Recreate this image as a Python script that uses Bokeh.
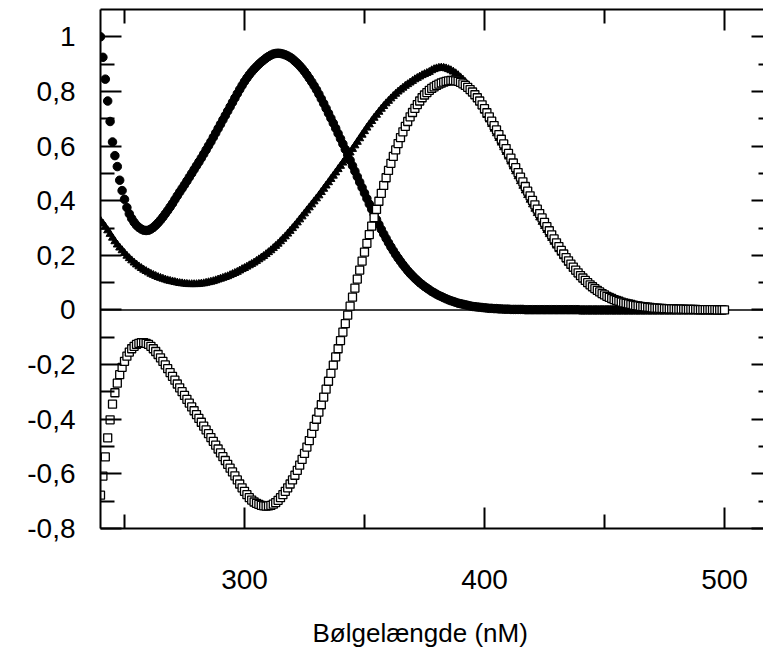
from bokeh.plotting import figure
from bokeh.models import Range1d, FixedTicker, LinearAxis, Span, Title, CustomJSTickFormatter
from bokeh.embed import file_html
from bokeh.resources import INLINE

# ---------------- data ----------------
wavelength = list(range(240, 501))  # nm, 1 nm step

series_circles = [
    1.000, 0.925, 0.845, 0.765, 0.690, 0.615, 0.565, 0.525, 0.475, 0.437,  # 240
    0.405, 0.375, 0.352, 0.335, 0.321, 0.310, 0.302, 0.296, 0.292, 0.291,  # 250
    0.292, 0.296, 0.302, 0.310, 0.319, 0.329, 0.340, 0.352, 0.364, 0.377,  # 260
    0.390, 0.404, 0.418, 0.432, 0.445, 0.458, 0.472, 0.486, 0.500, 0.514,  # 270
    0.528, 0.542, 0.556, 0.571, 0.586, 0.601, 0.616, 0.632, 0.648, 0.664,  # 280
    0.680, 0.696, 0.712, 0.728, 0.744, 0.760, 0.776, 0.792, 0.807, 0.822,  # 290
    0.836, 0.849, 0.861, 0.872, 0.882, 0.891, 0.900, 0.908, 0.915, 0.922,  # 300
    0.928, 0.933, 0.937, 0.939, 0.940, 0.939, 0.937, 0.934, 0.930, 0.925,  # 310
    0.919, 0.911, 0.903, 0.894, 0.884, 0.873, 0.861, 0.848, 0.835, 0.821,  # 320
    0.806, 0.790, 0.773, 0.756, 0.738, 0.720, 0.702, 0.684, 0.665, 0.646,  # 330
    0.627, 0.608, 0.588, 0.568, 0.548, 0.528, 0.508, 0.488, 0.468, 0.448,  # 340
    0.428, 0.408, 0.388, 0.369, 0.350, 0.331, 0.313, 0.295, 0.278, 0.262,  # 350
    0.246, 0.231, 0.217, 0.203, 0.190, 0.178, 0.166, 0.155, 0.144, 0.134,  # 360
    0.125, 0.116, 0.108, 0.100, 0.093, 0.086, 0.080, 0.074, 0.068, 0.063,  # 370
    0.058, 0.053, 0.049, 0.045, 0.041, 0.037, 0.034, 0.031, 0.028, 0.025,  # 380
    0.023, 0.021, 0.019, 0.017, 0.015, 0.013, 0.012, 0.011, 0.010, 0.009,  # 390
    0.008, 0.007, 0.006, 0.006, 0.005, 0.005, 0.004, 0.004, 0.003, 0.003,  # 400
    0.003, 0.002, 0.002, 0.002, 0.002, 0.002, 0.002, 0.001, 0.001, 0.001,  # 410
    0.001, 0.001, 0.001, 0.001, 0.001, 0.001, 0.001, 0.001, 0.001, 0.001,  # 420
    0.001, 0.001, 0.001, 0.001, 0.001, 0.001, 0.001, 0.001, 0.001, 0.001,  # 430
    0.000, 0.000, 0.000, 0.000, 0.000, 0.000, 0.000, 0.000, 0.000, 0.000,  # 440
    0.000, 0.000, 0.000, 0.000, 0.000, 0.000, 0.000, 0.000, 0.000, 0.000,  # 450
    0.000, 0.000, 0.000, 0.000, 0.000, 0.000, 0.000, 0.000, 0.000, 0.000,  # 460
    0.000, 0.000, 0.000, 0.000, 0.000, 0.000, 0.000, 0.000, 0.000, 0.000,  # 470
    0.000, 0.000, 0.000, 0.000, 0.000, 0.000, 0.000, 0.000, 0.000, 0.000,  # 480
    0.000, 0.000, 0.000, 0.000, 0.000, 0.000, 0.000, 0.000, 0.000, 0.000,  # 490
    0.000,                                                                  # 500
]

series_triangles = [
    0.327, 0.316, 0.304, 0.291, 0.278, 0.264, 0.251, 0.239, 0.228, 0.218,  # 240
    0.208, 0.198, 0.189, 0.181, 0.173, 0.166, 0.159, 0.153, 0.147, 0.142,  # 250
    0.137, 0.132, 0.128, 0.124, 0.120, 0.117, 0.114, 0.111, 0.108, 0.106,  # 260
    0.104, 0.102, 0.100, 0.098, 0.097, 0.096, 0.095, 0.094, 0.094, 0.094,  # 270
    0.094, 0.095, 0.096, 0.097, 0.099, 0.101, 0.103, 0.105, 0.108, 0.111,  # 280
    0.114, 0.117, 0.120, 0.123, 0.127, 0.131, 0.135, 0.139, 0.144, 0.149,  # 290
    0.153, 0.158, 0.163, 0.168, 0.173, 0.179, 0.185, 0.191, 0.197, 0.204,  # 300
    0.211, 0.218, 0.226, 0.234, 0.242, 0.251, 0.260, 0.269, 0.279, 0.289,  # 310
    0.299, 0.309, 0.320, 0.331, 0.342, 0.353, 0.364, 0.375, 0.386, 0.397,  # 320
    0.408, 0.419, 0.431, 0.443, 0.455, 0.467, 0.479, 0.491, 0.503, 0.515,  # 330
    0.527, 0.539, 0.551, 0.563, 0.576, 0.589, 0.602, 0.615, 0.628, 0.641,  # 340
    0.654, 0.667, 0.679, 0.691, 0.703, 0.714, 0.725, 0.736, 0.746, 0.756,  # 350
    0.765, 0.774, 0.783, 0.791, 0.799, 0.806, 0.813, 0.820, 0.826, 0.832,  # 360
    0.838, 0.844, 0.849, 0.854, 0.859, 0.863, 0.867, 0.871, 0.877, 0.881,  # 370
    0.884, 0.886, 0.887, 0.886, 0.884, 0.881, 0.877, 0.872, 0.866, 0.859,  # 380
    0.851, 0.843, 0.834, 0.824, 0.813, 0.801, 0.788, 0.774, 0.760, 0.745,  # 390
    0.729, 0.713, 0.697, 0.680, 0.663, 0.646, 0.629, 0.612, 0.595, 0.578,  # 400
    0.561, 0.543, 0.525, 0.507, 0.489, 0.471, 0.454, 0.437, 0.420, 0.403,  # 410
    0.386, 0.370, 0.354, 0.338, 0.322, 0.307, 0.292, 0.277, 0.263, 0.249,  # 420
    0.235, 0.222, 0.209, 0.196, 0.184, 0.172, 0.161, 0.150, 0.140, 0.130,  # 430
    0.121, 0.112, 0.104, 0.096, 0.089, 0.082, 0.075, 0.069, 0.063, 0.058,  # 440
    0.053, 0.048, 0.044, 0.040, 0.036, 0.033, 0.030, 0.027, 0.024, 0.022,  # 450
    0.020, 0.018, 0.016, 0.015, 0.013, 0.012, 0.011, 0.010, 0.009, 0.008,  # 460
    0.007, 0.006, 0.006, 0.005, 0.005, 0.004, 0.004, 0.004, 0.003, 0.003,  # 470
    0.003, 0.002, 0.002, 0.002, 0.002, 0.002, 0.002, 0.001, 0.001, 0.001,  # 480
    0.001, 0.001, 0.001, 0.001, 0.000, 0.000, 0.000, 0.000, 0.000, 0.000,  # 490
    0.000,                                                                  # 500
]

series_squares = [
    -0.678, -0.608, -0.538, -0.468, -0.402, -0.345, -0.303, -0.268, -0.237, -0.210,  # 240
    -0.188, -0.169, -0.154, -0.142, -0.133, -0.126, -0.122, -0.120, -0.120, -0.122,  # 250
    -0.126, -0.133, -0.142, -0.152, -0.163, -0.175, -0.188, -0.201, -0.215, -0.229,  # 260
    -0.243, -0.257, -0.271, -0.285, -0.299, -0.313, -0.327, -0.341, -0.355, -0.369,  # 270
    -0.383, -0.397, -0.411, -0.425, -0.439, -0.453, -0.467, -0.481, -0.495, -0.509,  # 280
    -0.523, -0.537, -0.551, -0.565, -0.579, -0.593, -0.607, -0.622, -0.637, -0.651,  # 290
    -0.664, -0.676, -0.687, -0.696, -0.703, -0.708, -0.712, -0.715, -0.717, -0.718,  # 300
    -0.717, -0.715, -0.711, -0.705, -0.697, -0.687, -0.676, -0.664, -0.651, -0.637,  # 310
    -0.622, -0.605, -0.587, -0.568, -0.547, -0.525, -0.502, -0.478, -0.452, -0.426,  # 320
    -0.400, -0.374, -0.347, -0.319, -0.290, -0.261, -0.232, -0.202, -0.172, -0.142,  # 330
    -0.112, -0.081, -0.050, -0.019, 0.014, 0.047, 0.080, 0.113, 0.146, 0.179,        # 340
    0.212, 0.244, 0.276, 0.307, 0.338, 0.368, 0.398, 0.427, 0.456, 0.484,            # 350
    0.511, 0.537, 0.562, 0.586, 0.609, 0.631, 0.652, 0.672, 0.690, 0.707,            # 360
    0.723, 0.738, 0.752, 0.765, 0.777, 0.787, 0.796, 0.804, 0.811, 0.817,            # 370
    0.822, 0.827, 0.831, 0.834, 0.837, 0.839, 0.840, 0.840, 0.839, 0.837,            # 380
    0.833, 0.828, 0.822, 0.815, 0.807, 0.798, 0.788, 0.777, 0.765, 0.751,            # 390
    0.737, 0.722, 0.707, 0.691, 0.675, 0.659, 0.642, 0.625, 0.608, 0.591,            # 400
    0.573, 0.556, 0.538, 0.521, 0.503, 0.486, 0.469, 0.452, 0.435, 0.418,            # 410
    0.401, 0.385, 0.369, 0.353, 0.337, 0.321, 0.305, 0.290, 0.275, 0.260,            # 420
    0.246, 0.232, 0.218, 0.205, 0.192, 0.180, 0.168, 0.157, 0.146, 0.136,            # 430
    0.126, 0.117, 0.108, 0.100, 0.092, 0.085, 0.078, 0.072, 0.066, 0.060,            # 440
    0.055, 0.050, 0.046, 0.042, 0.038, 0.035, 0.032, 0.029, 0.026, 0.024,            # 450
    0.022, 0.020, 0.018, 0.016, 0.015, 0.013, 0.012, 0.011, 0.010, 0.009,            # 460
    0.008, 0.007, 0.007, 0.006, 0.006, 0.005, 0.005, 0.004, 0.004, 0.004,            # 470
    0.003, 0.003, 0.003, 0.003, 0.002, 0.002, 0.002, 0.002, 0.002, 0.001,            # 480
    0.001, 0.001, 0.001, 0.001, 0.001, 0.001, 0.001, 0.000, 0.000, 0.000,            # 490
    0.000,                                                                            # 500
]

x_ticks = [300, 400, 500]
x_minor_ticks = [250, 350, 450]
y_ticks = [-0.8, -0.6, -0.4, -0.2, 0.0, 0.2, 0.4, 0.6, 0.8, 1.0]
y_tick_labels = ["-0,8", "-0,6", "-0,4", "-0,2", "0", "0,2", "0,4", "0,6", "0,8", "1"]
y_minor_ticks = [-0.7, -0.5, -0.3, -0.1, 0.1, 0.3, 0.5, 0.7, 0.9]
x_label = "Bølgelængde (nM)"

# ---------------- figure ----------------
FONT = "Liberation Sans"

p = figure(width=772, height=690,
           x_range=Range1d(240, 520), y_range=Range1d(-0.8, 1.1),
           output_backend="svg", toolbar_location=None,
           min_border_left=100, min_border_right=0,
           min_border_top=9, min_border_bottom=162)
p.xgrid.visible = False
p.ygrid.visible = False
p.outline_line_color = None
p.background_fill_color = "white"
p.border_fill_color = "white"


def style_axis(ax):
    ax.axis_line_color = "black"
    ax.axis_line_width = 2
    ax.major_tick_in = 21
    ax.major_tick_out = 0
    ax.minor_tick_in = 14
    ax.minor_tick_out = 0
    ax.major_tick_line_color = "black"
    ax.minor_tick_line_color = "black"
    ax.major_tick_line_width = 2
    ax.minor_tick_line_width = 2
    ax.major_label_text_font = FONT
    ax.major_label_text_color = "black"
    ax.major_label_text_font_size = "28px"


y_formatter = CustomJSTickFormatter(
    args=dict(tick_vals=y_ticks, tick_texts=y_tick_labels),
    code="""
    for (let i = 0; i < tick_vals.length; i++) {
        if (Math.abs(tick_vals[i] - tick) < 1e-6) { return tick_texts[i]; }
    }
    return '';
    """)
blank_formatter = CustomJSTickFormatter(code="return '';")

xb = p.xaxis[0]
xb.ticker = FixedTicker(ticks=x_ticks, minor_ticks=x_minor_ticks)
style_axis(xb)
xb.major_label_standoff = 41

yl = p.yaxis[0]
yl.ticker = FixedTicker(ticks=y_ticks, minor_ticks=y_minor_ticks)
yl.formatter = y_formatter
style_axis(yl)
yl.major_label_standoff = 25

# mirrored tick axes (top and right), without labels
xa = LinearAxis(ticker=FixedTicker(ticks=x_ticks, minor_ticks=x_minor_ticks),
                formatter=blank_formatter)
style_axis(xa)
xa.major_label_text_font_size = "1px"
xa.major_label_standoff = 0
p.add_layout(xa, "above")

yr = LinearAxis(ticker=FixedTicker(ticks=y_ticks, minor_ticks=y_minor_ticks),
                formatter=blank_formatter)
style_axis(yr)
yr.major_label_text_font_size = "1px"
yr.major_label_standoff = 0
p.add_layout(yr, "right")

title = Title(text=x_label, align="left", offset=212,
              text_font=FONT, text_font_size="26px", text_font_style="normal",
              text_color="black", standoff=49)
p.add_layout(title, "below")

zero = Span(location=0, dimension="width", line_color="black", line_width=1.5, level="underlay")
p.add_layout(zero)

p.scatter(wavelength, series_circles, marker="circle", size=8.5,
          fill_color="black", line_color="black")
p.scatter(wavelength, series_triangles, marker="triangle", size=8,
          fill_color="black", line_color="black")
p.scatter(wavelength, series_squares, marker="square", size=8,
          fill_color="white", line_color="black", line_width=1.3)

with open("out.html", "w", encoding="utf-8") as f:
    f.write(file_html(p, INLINE))
